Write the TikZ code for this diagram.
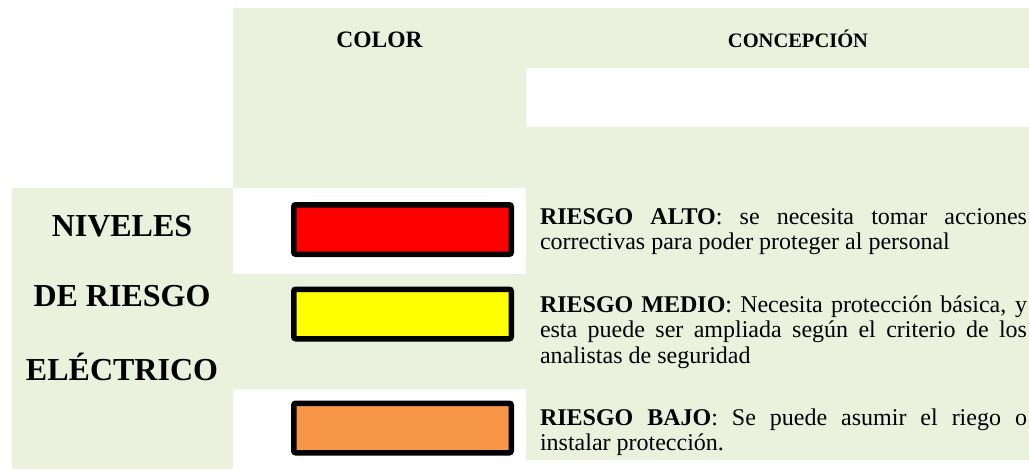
\documentclass[tikz,border=0pt]{standalone}
\usepackage{fontspec}
\setmainfont{Liberation Serif}
\usepackage{tikz}
\definecolor{cellgreen}{RGB}{234,241,221}
\definecolor{riskred}{RGB}{255,0,0}
\definecolor{riskyellow}{RGB}{255,255,0}
\definecolor{riskorange}{RGB}{247,150,70}

\begin{document}
\begin{tikzpicture}
              [x=1pt,y=-1pt,
                every node/.style={inner sep=0pt,outer sep=0pt},
                cell/.style={fill=cellgreen,draw=none},
                head/.style={anchor=base,font=\fontsize{23.5}{26}\selectfont\bfseries},
                level/.style={anchor=base,font=\fontsize{32}{38}\selectfont\bfseries},
                swatch/.style={draw=black,line width=5.5pt,rounded corners=2pt,minimum width=217.5pt,minimum height=49.5pt},
                desc/.style={anchor=base west,text width=487pt,align=justify,font=\fontsize{24}{25.5}\selectfont,
                  execute at begin node={\hyphenpenalty=10000\exhyphenpenalty=10000}}]
              \useasboundingbox (0,0) rectangle (1029,469);
              % table cells
              \fill[cell] (233,8) rectangle (1029,188);
              \fill[white] (526,68) rectangle (1029,127);
              \fill[cell] (12,188) rectangle (233,469);
              \fill[cell] (233,274) rectangle (526,389);
              \fill[cell] (526,188) rectangle (1029,460);
              % headers
              \node[head] (h1) at (379.5,47) {COLOR};
              \node[head,font=\fontsize{20.5}{24}\selectfont\bfseries] (h2) at (798,47) {CONCEPCIÓN};
              \foreach \i/\y/\t in {1/236/NIVELES,2/306/DE RIESGO,3/380/ELÉCTRICO}
              \node[level] (l\i) at (122,\y) {\t};
              % colour swatches
              \node[swatch,fill=riskred] (s1) at (402.5,229.5) {};
              \node[swatch,fill=riskyellow] (s2) at (402.5,314) {};
              \node[swatch,fill=riskorange] (s3) at (402.5,428) {};
              \node[desc] (t1) at (540,224) {\textbf{RIESGO ALTO}: se necesita tomar acciones correctivas para poder proteger al personal};
              \node[desc] (t2) at (540,312) {\textbf{RIESGO MEDIO}: Necesita protección básica, y esta puede ser ampliada según el criterio de los analistas de seguridad};
              \node[desc] (t3) at (540,425) {\textbf{RIESGO BAJO}: Se puede asumir el riego o\linebreak instalar protección.};
            \end{tikzpicture}
\end{document}
